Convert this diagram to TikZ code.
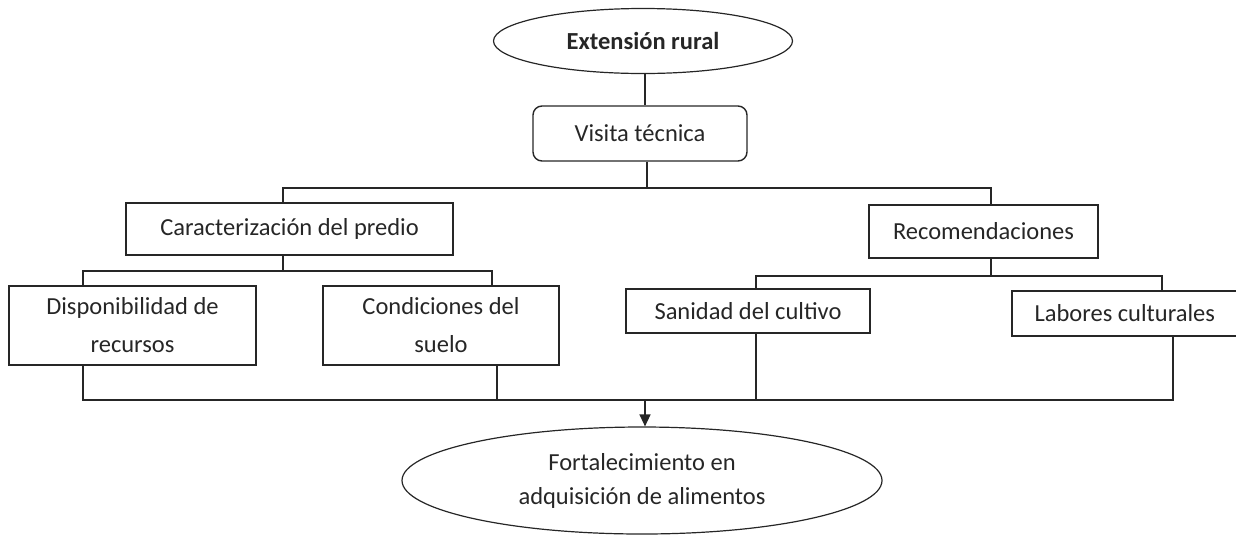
\documentclass[tikz,border=0pt]{standalone}
\usepackage{fontspec}
\setmainfont{Carlito}
\usetikzlibrary{shapes.geometric,arrows.meta}
\begin{document}
\begin{tikzpicture}[x=1pt,y=-1pt,
  every node/.style={font=\fontsize{24.5}{38}\selectfont, inner sep=0pt, align=center, text=black!85},
  box/.style={draw=black!85, line width=1.4pt, rectangle, anchor=center},
  ell/.style={draw=black!85, line width=1.2pt, ellipse, anchor=center},
  conn/.style={draw=black!85, line width=1.4pt},
]
\useasboundingbox (0,0) rectangle (1236,539);
\node[ell, minimum width=299pt, minimum height=65pt, font=\fontsize{24.5}{38}\selectfont\bfseries] (ext) at (643,41) {Extensión rural};
\node[box, rounded corners=9pt, minimum width=214pt, minimum height=55pt] (vis) at (640,133.5) {Visita técnica};
\node[box, minimum width=327pt, minimum height=52pt] (car) at (289.5,229) {Caracterización del predio};
\node[box, minimum width=229pt, minimum height=53pt] (rec) at (983.5,231.5) {Recomendaciones};
\node[box, minimum width=247pt, minimum height=79pt] (dis) at (132.5,325.5) {Disponibilidad de\\recursos};
\node[box, minimum width=236pt, minimum height=79pt] (con) at (441,325.5) {Condiciones del\\suelo};
\node[box, minimum width=244pt, minimum height=44pt] (san) at (748,311) {Sanidad del cultivo};
\node[box, minimum width=225.5pt, minimum height=45pt] (lab) at (1124.75,313.5) {Labores culturales};
\node[ell, minimum width=480pt, minimum height=107pt, font=\fontsize{24.5}{34}\selectfont] (fort) at (642,480.5) {Fortalecimiento en\\adquisición de alimentos};

\coordinate (vb) at (647,188);
\coordinate (h1) at (283,188);
\coordinate (h2) at (991,188);
\coordinate (eb) at (645,0);
\coordinate (c1) at (283,271);
\coordinate (cl) at (83,271);
\coordinate (cr) at (492,271);
\coordinate (rm) at (991,276);
\coordinate (rl) at (756,276);
\coordinate (rr) at (1162,276);
\coordinate (b1) at (83,400);
\coordinate (b2) at (497,400);
\coordinate (b3) at (756,400);
\coordinate (b4) at (1173,400);
\coordinate (ba) at (645,400);

\draw[conn] (ext.south -| eb) -- (vis.north -| eb);
\draw[conn] (vis.south -| vb) -- (vb);
\draw[conn] (car.north -| h1) -- (h1) -- (h2) -- (rec.north -| h2);
\draw[conn] (car.south -| c1) -- (c1);
\draw[conn] (dis.north -| cl) -- (cl) -- (cr) -- (con.north -| cr);
\draw[conn] (rec.south -| rm) -- (rm);
\draw[conn] (san.north -| rl) -- (rl) -- (rr) -- (lab.north -| rr);
\draw[conn] (dis.south -| b1) -- (b1) -- (b4) -- (lab.south -| b4);
\draw[conn] (con.south -| b2) -- (b2);
\draw[conn] (san.south -| b3) -- (b3);
\draw[conn, -{Triangle[length=12pt,width=11pt]}] (ba) -- (fort.north -| ba);
\end{tikzpicture}
\end{document}
